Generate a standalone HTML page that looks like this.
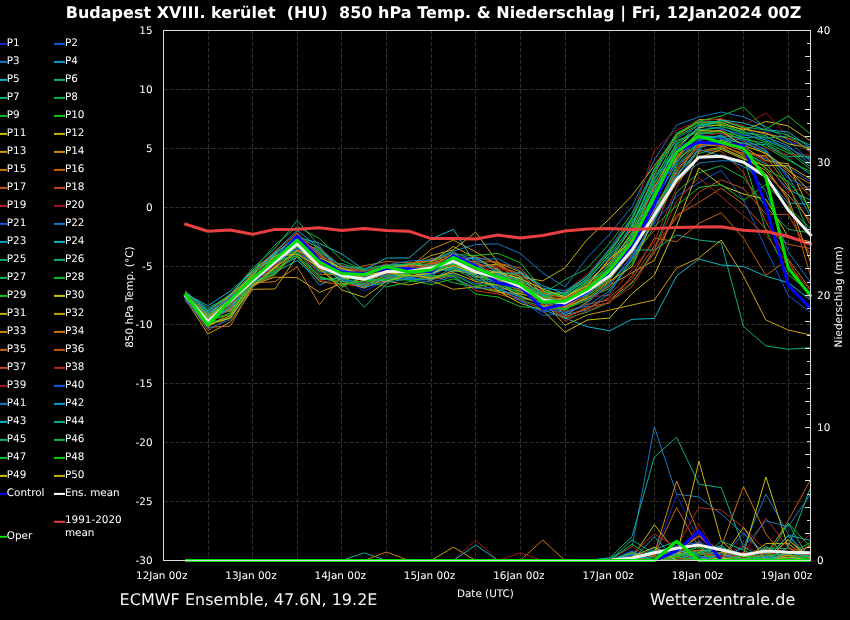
<!DOCTYPE html><html><head><meta charset="utf-8"><style>html,body{margin:0;padding:0;background:#000;}svg{display:block}text{font-family:"DejaVu Sans","Liberation Sans",sans-serif;fill:#fff;text-rendering:geometricPrecision}</style></head><body>
<svg width="850" height="620" viewBox="0 0 850 620">
<rect width="850" height="620" fill="#000"/>
<path d="M208.5 30.05V560.5 M252.5 30.05V560.5 M297.5 30.05V560.5 M341.5 30.05V560.5 M386.5 30.05V560.5 M431.5 30.05V560.5 M475.5 30.05V560.5 M520.5 30.05V560.5 M565.5 30.05V560.5 M609.5 30.05V560.5 M654.5 30.05V560.5 M698.5 30.05V560.5 M743.5 30.05V560.5 M788.5 30.05V560.5 M163.5 89.5H810.5 M163.5 148.5H810.5 M163.5 207.5H810.5 M163.5 266.5H810.5 M163.5 324.5H810.5 M163.5 383.5H810.5 M163.5 442.5H810.5 M163.5 501.5H810.5" stroke="#303024" stroke-width="1" stroke-dasharray="4,2" fill="none"/>
<defs><clipPath id="c"><rect x="163.5" y="30.5" width="647" height="530"/></clipPath></defs>
<g fill="none" stroke-linejoin="round" stroke-linecap="square">
<polyline points="185.6,296.1 207.9,316.7 230.3,293.0 252.6,275.9 274.9,260.3 297.2,239.4 319.5,261.0 341.8,277.6 364.2,291.2 386.5,280.3 408.8,277.3 431.1,270.8 453.4,261.3 475.7,275.2 498.1,282.6 520.4,289.7 542.7,289.1 565.0,296.1 587.3,284.5 609.6,261.6 632.0,232.9 654.3,189.0 676.6,148.9 698.9,135.5 721.2,129.4 743.5,135.7 765.9,131.5 788.2,141.9 810.5,147.2" stroke="#1428c8" stroke-width="1"/>
<polyline points="185.6,293.0 207.9,309.9 230.3,295.6 252.6,277.7 274.9,262.2 297.2,243.1 319.5,266.7 341.8,269.3 364.2,278.7 386.5,274.1 408.8,276.2 431.1,272.8 453.4,265.2 475.7,270.1 498.1,271.0 520.4,290.7 542.7,304.0 565.0,299.8 587.3,289.7 609.6,269.6 632.0,239.7 654.3,200.8 676.6,163.8 698.9,134.7 721.2,138.5 743.5,150.0 765.9,159.1 788.2,167.5 810.5,181.4" stroke="#105ad7" stroke-width="1"/>
<polyline points="185.6,297.2 207.9,320.8 230.3,309.6 252.6,278.6 274.9,258.3 297.2,236.3 319.5,255.7 341.8,272.5 364.2,275.6 386.5,265.0 408.8,266.4 431.1,264.1 453.4,251.1 475.7,244.5 498.1,243.9 520.4,253.5 542.7,272.9 565.0,287.0 587.3,257.5 609.6,234.2 632.0,206.7 654.3,159.9 676.6,125.0 698.9,117.0 721.2,112.0 743.5,116.9 765.9,126.5 788.2,140.0 810.5,161.8" stroke="#1478c8" stroke-width="1"/>
<polyline points="185.6,294.7 207.9,312.7 230.3,296.7 252.6,276.2 274.9,269.0 297.2,257.3 319.5,285.1 341.8,275.4 364.2,277.0 386.5,275.2 408.8,269.4 431.1,276.5 453.4,260.8 475.7,275.7 498.1,282.1 520.4,282.3 542.7,295.8 565.0,301.3 587.3,291.7 609.6,273.5 632.0,248.9 654.3,202.3 676.6,162.4 698.9,138.8 721.2,136.0 743.5,137.5 765.9,136.9 788.2,145.7 810.5,164.3" stroke="#109bcd" stroke-width="1"/>
<polyline points="185.6,294.6 207.9,314.3 230.3,311.4 252.6,276.8 274.9,257.8 297.2,232.9 319.5,270.3 341.8,274.3 364.2,273.9 386.5,267.9 408.8,264.0 431.1,267.8 453.4,271.5 475.7,267.9 498.1,274.4 520.4,277.8 542.7,294.3 565.0,306.7 587.3,293.0 609.6,279.4 632.0,252.3 654.3,205.3 676.6,177.7 698.9,140.5 721.2,135.1 743.5,152.3 765.9,164.0 788.2,189.5 810.5,200.2" stroke="#10b4c8" stroke-width="1"/>
<polyline points="185.6,292.6 207.9,308.4 230.3,295.1 252.6,268.0 274.9,248.5 297.2,220.3 319.5,246.1 341.8,277.3 364.2,279.6 386.5,273.2 408.8,277.9 431.1,271.5 453.4,268.3 475.7,280.1 498.1,279.2 520.4,272.1 542.7,294.7 565.0,292.1 587.3,279.4 609.6,256.7 632.0,229.6 654.3,184.5 676.6,142.3 698.9,128.6 721.2,120.1 743.5,127.1 765.9,140.9 788.2,149.5 810.5,166.7" stroke="#10af8c" stroke-width="1"/>
<polyline points="185.6,297.6 207.9,317.4 230.3,301.3 252.6,279.2 274.9,255.3 297.2,243.6 319.5,266.1 341.8,263.5 364.2,270.7 386.5,264.6 408.8,264.5 431.1,260.1 453.4,250.9 475.7,272.2 498.1,271.6 520.4,275.9 542.7,299.5 565.0,299.3 587.3,287.8 609.6,276.4 632.0,240.9 654.3,192.0 676.6,144.0 698.9,129.7 721.2,127.7 743.5,138.4 765.9,150.7 788.2,184.1 810.5,236.9" stroke="#10af6e" stroke-width="1"/>
<polyline points="185.6,297.4 207.9,322.2 230.3,318.5 252.6,287.4 274.9,268.2 297.2,241.2 319.5,250.3 341.8,270.3 364.2,281.2 386.5,270.1 408.8,276.8 431.1,275.0 453.4,282.7 475.7,287.0 498.1,290.9 520.4,284.0 542.7,302.4 565.0,318.8 587.3,312.1 609.6,302.1 632.0,283.3 654.3,249.6 676.6,192.1 698.9,172.8 721.2,165.5 743.5,177.7 765.9,206.8 788.2,229.3 810.5,232.9" stroke="#10b44b" stroke-width="1"/>
<polyline points="185.6,297.8 207.9,326.9 230.3,304.2 252.6,285.7 274.9,273.1 297.2,250.2 319.5,265.0 341.8,287.5 364.2,275.3 386.5,272.6 408.8,268.8 431.1,268.2 453.4,259.8 475.7,271.2 498.1,288.7 520.4,299.9 542.7,306.5 565.0,309.6 587.3,297.6 609.6,288.7 632.0,263.7 654.3,214.6 676.6,173.1 698.9,153.2 721.2,148.3 743.5,156.9 765.9,230.6 788.2,274.5 810.5,292.6" stroke="#10be28" stroke-width="1"/>
<polyline points="185.6,295.9 207.9,320.4 230.3,314.6 252.6,279.8 274.9,269.8 297.2,242.2 319.5,251.4 341.8,266.1 364.2,272.3 386.5,268.4 408.8,265.0 431.1,261.4 453.4,254.3 475.7,255.6 498.1,253.4 520.4,262.7 542.7,290.4 565.0,297.4 587.3,283.7 609.6,265.7 632.0,231.5 654.3,180.4 676.6,136.9 698.9,124.3 721.2,125.6 743.5,133.6 765.9,142.1 788.2,153.1 810.5,158.0" stroke="#10c810" stroke-width="1"/>
<polyline points="185.6,295.6 207.9,311.1 230.3,295.0 252.6,270.0 274.9,252.6 297.2,240.3 319.5,261.6 341.8,276.9 364.2,286.9 386.5,274.4 408.8,264.0 431.1,267.3 453.4,253.5 475.7,267.3 498.1,272.7 520.4,281.1 542.7,291.8 565.0,297.9 587.3,281.6 609.6,262.7 632.0,234.0 654.3,187.6 676.6,147.6 698.9,127.6 721.2,124.5 743.5,129.3 765.9,132.9 788.2,143.8 810.5,148.2" stroke="#c8c310" stroke-width="1"/>
<polyline points="185.6,295.0 207.9,313.8 230.3,298.3 252.6,272.1 274.9,253.7 297.2,235.5 319.5,253.6 341.8,270.6 364.2,272.7 386.5,270.4 408.8,272.0 431.1,273.1 453.4,263.2 475.7,266.7 498.1,264.0 520.4,276.9 542.7,280.9 565.0,267.7 587.3,239.3 609.6,218.7 632.0,195.5 654.3,165.9 676.6,135.2 698.9,122.1 721.2,122.3 743.5,130.4 765.9,121.4 788.2,125.9 810.5,140.9" stroke="#c8b210" stroke-width="1"/>
<polyline points="185.6,299.4 207.9,334.0 230.3,322.0 252.6,289.3 274.9,289.0 297.2,256.1 319.5,281.4 341.8,284.9 364.2,278.1 386.5,266.0 408.8,266.0 431.1,255.6 453.4,249.7 475.7,232.2 498.1,262.9 520.4,271.9 542.7,289.7 565.0,315.7 587.3,301.7 609.6,285.3 632.0,272.7 654.3,260.4 676.6,210.1 698.9,151.3 721.2,147.3 743.5,158.0 765.9,170.5 788.2,197.6 810.5,262.1" stroke="#c8a010" stroke-width="1"/>
<polyline points="185.6,294.4 207.9,319.1 230.3,300.9 252.6,274.2 274.9,251.6 297.2,233.1 319.5,263.3 341.8,273.9 364.2,275.9 386.5,268.7 408.8,268.4 431.1,249.4 453.4,240.1 475.7,251.9 498.1,265.0 520.4,281.7 542.7,297.3 565.0,298.8 587.3,285.1 609.6,260.0 632.0,227.7 654.3,174.3 676.6,134.9 698.9,119.5 721.2,119.5 743.5,128.2 765.9,134.2 788.2,138.1 810.5,149.8" stroke="#cd8c10" stroke-width="1"/>
<polyline points="185.6,294.0 207.9,314.9 230.3,306.2 252.6,283.1 274.9,281.6 297.2,266.9 319.5,304.5 341.8,276.2 364.2,277.3 386.5,269.1 408.8,268.1 431.1,258.8 453.4,256.0 475.7,266.1 498.1,275.0 520.4,282.9 542.7,298.4 565.0,300.3 587.3,286.4 609.6,264.7 632.0,237.4 654.3,199.3 676.6,158.7 698.9,133.9 721.2,130.2 743.5,141.1 765.9,154.4 788.2,171.1 810.5,183.9" stroke="#cd7810" stroke-width="1"/>
<polyline points="185.6,301.0 207.9,327.0 230.3,312.4 252.6,283.4 274.9,264.7 297.2,247.6 319.5,247.9 341.8,272.1 364.2,265.8 386.5,261.5 408.8,262.8 431.1,260.7 453.4,258.3 475.7,261.9 498.1,261.9 520.4,280.0 542.7,304.8 565.0,317.9 587.3,307.1 609.6,302.9 632.0,275.7 654.3,238.2 676.6,241.7 698.9,223.3 721.2,212.7 743.5,238.3 765.9,275.4 788.2,259.3 810.5,289.3" stroke="#c86410" stroke-width="1"/>
<polyline points="185.6,298.2 207.9,330.5 230.3,316.8 252.6,285.1 274.9,270.7 297.2,249.3 319.5,274.4 341.8,274.7 364.2,275.0 386.5,271.4 408.8,267.4 431.1,266.5 453.4,258.8 475.7,282.8 498.1,291.3 520.4,298.8 542.7,301.3 565.0,311.4 587.3,304.4 609.6,299.6 632.0,282.1 654.3,252.9 676.6,215.3 698.9,202.5 721.2,188.2 743.5,204.4 765.9,229.3 788.2,244.3 810.5,248.5" stroke="#c85814" stroke-width="1"/>
<polyline points="185.6,295.3 207.9,326.3 230.3,301.8 252.6,278.0 274.9,266.7 297.2,242.7 319.5,269.0 341.8,273.6 364.2,279.3 386.5,273.5 408.8,274.8 431.1,279.6 453.4,275.9 475.7,290.6 498.1,294.0 520.4,300.4 542.7,309.0 565.0,305.6 587.3,299.5 609.6,286.5 632.0,254.6 654.3,230.6 676.6,174.6 698.9,150.3 721.2,151.2 743.5,172.2 765.9,221.8 788.2,260.4 810.5,299.3" stroke="#c8441e" stroke-width="1"/>
<polyline points="185.6,296.3 207.9,321.4 230.3,302.6 252.6,282.5 274.9,265.2 297.2,238.0 319.5,247.5 341.8,267.1 364.2,274.2 386.5,271.7 408.8,266.9 431.1,270.2 453.4,264.4 475.7,276.1 498.1,277.2 520.4,284.6 542.7,299.1 565.0,307.9 587.3,296.9 609.6,295.3 632.0,269.7 654.3,242.0 676.6,187.6 698.9,147.3 721.2,141.4 743.5,148.9 765.9,162.3 788.2,192.2 810.5,186.3" stroke="#b4281e" stroke-width="1"/>
<polyline points="185.6,293.4 207.9,311.6 230.3,297.8 252.6,273.1 274.9,250.5 297.2,233.9 319.5,267.9 341.8,267.7 364.2,273.5 386.5,271.0 408.8,271.7 431.1,268.6 453.4,251.9 475.7,263.8 498.1,267.9 520.4,275.0 542.7,296.2 565.0,291.8 587.3,273.9 609.6,249.8 632.0,217.9 654.3,150.0 676.6,130.0 698.9,121.7 721.2,118.3 743.5,125.8 765.9,113.0 788.2,136.2 810.5,153.1" stroke="#a01616" stroke-width="1"/>
<polyline points="185.6,298.8 207.9,318.8 230.3,305.7 252.6,282.3 274.9,259.8 297.2,244.6 319.5,260.4 341.8,271.4 364.2,277.5 386.5,276.9 408.8,279.0 431.1,277.2 453.4,273.7 475.7,284.1 498.1,280.2 520.4,300.0 542.7,315.4 565.0,313.5 587.3,303.1 609.6,283.3 632.0,256.9 654.3,223.0 676.6,196.6 698.9,182.6 721.2,170.2 743.5,199.5 765.9,248.7 788.2,295.3 810.5,312.7" stroke="#105ad7" stroke-width="1"/>
<polyline points="185.6,293.0 207.9,311.0 230.3,299.7 252.6,281.7 274.9,253.1 297.2,238.8 319.5,252.5 341.8,265.9 364.2,271.0 386.5,265.0 408.8,261.0 431.1,259.9 453.4,252.7 475.7,260.0 498.1,268.8 520.4,285.1 542.7,308.9 565.0,312.4 587.3,305.8 609.6,290.9 632.0,258.0 654.3,219.3 676.6,179.3 698.9,163.0 721.2,160.7 743.5,161.4 765.9,191.8 788.2,251.8 810.5,282.5" stroke="#1478c8" stroke-width="1"/>
<polyline points="185.6,298.4 207.9,321.8 230.3,308.7 252.6,280.4 274.9,263.2 297.2,253.5 319.5,265.6 341.8,271.0 364.2,273.1 386.5,266.5 408.8,269.1 431.1,274.2 453.4,266.5 475.7,273.7 498.1,273.9 520.4,287.2 542.7,298.0 565.0,314.6 587.3,309.9 609.6,293.1 632.0,259.1 654.3,220.8 676.6,180.8 698.9,149.3 721.2,156.0 743.5,166.8 765.9,176.9 788.2,203.0 810.5,204.3" stroke="#109bcd" stroke-width="1"/>
<polyline points="185.6,295.2 207.9,315.9 230.3,296.1 252.6,273.7 274.9,254.2 297.2,237.2 319.5,243.3 341.8,254.0 364.2,269.9 386.5,258.0 408.8,258.0 431.1,239.0 453.4,229.3 475.7,264.4 498.1,276.7 520.4,288.2 542.7,309.4 565.0,318.1 587.3,326.7 609.6,330.8 632.0,319.3 654.3,318.5 676.6,276.0 698.9,259.0 721.2,265.0 743.5,266.6 765.9,276.2 788.2,282.6 810.5,300.0" stroke="#10b4c8" stroke-width="1"/>
<polyline points="185.6,291.0 207.9,312.1 230.3,305.2 252.6,285.5 274.9,272.3 297.2,260.5 319.5,279.9 341.8,278.0 364.2,279.9 386.5,276.2 408.8,274.0 431.1,270.5 453.4,262.8 475.7,278.7 498.1,287.6 520.4,291.1 542.7,296.5 565.0,303.3 587.3,294.3 609.6,275.5 632.0,250.0 654.3,250.0 676.6,235.0 698.9,240.0 721.2,242.6 743.5,326.5 765.9,345.9 788.2,349.2 810.5,347.7" stroke="#10af8c" stroke-width="1"/>
<polyline points="185.6,296.8 207.9,316.2 230.3,303.4 252.6,278.9 274.9,271.5 297.2,255.1 319.5,278.5 341.8,279.2 364.2,282.8 386.5,274.6 408.8,273.1 431.1,271.8 453.4,257.4 475.7,262.8 498.1,270.4 520.4,286.2 542.7,295.0 565.0,295.5 587.3,282.6 609.6,268.6 632.0,236.3 654.3,182.4 676.6,151.4 698.9,133.1 721.2,133.5 743.5,139.3 765.9,143.4 788.2,156.7 810.5,156.3" stroke="#10af6e" stroke-width="1"/>
<polyline points="185.6,298.6 207.9,323.5 230.3,303.8 252.6,281.2 274.9,274.1 297.2,252.7 319.5,262.7 341.8,271.7 364.2,277.8 386.5,272.3 408.8,267.8 431.1,269.4 453.4,269.4 475.7,269.0 498.1,280.7 520.4,283.4 542.7,298.8 565.0,302.3 587.3,288.4 609.6,263.7 632.0,223.9 654.3,176.3 676.6,145.8 698.9,123.2 721.2,123.4 743.5,132.6 765.9,135.6 788.2,151.3 810.5,169.2" stroke="#10b44b" stroke-width="1"/>
<polyline points="185.6,292.9 207.9,310.7 230.3,294.2 252.6,271.2 274.9,245.0 297.2,226.6 319.5,238.7 341.8,259.9 364.2,271.0 386.5,267.4 408.8,269.8 431.1,278.8 453.4,274.8 475.7,285.5 498.1,284.4 520.4,292.3 542.7,292.5 565.0,293.4 587.3,276.1 609.6,253.4 632.0,220.1 654.3,170.2 676.6,134.4 698.9,121.0 721.2,116.0 743.5,107.0 765.9,129.0 788.2,116.0 810.5,134.0" stroke="#10be28" stroke-width="1"/>
<polyline points="185.6,295.1 207.9,316.4 230.3,299.3 252.6,275.3 274.9,262.7 297.2,245.4 319.5,271.7 341.8,275.1 364.2,278.4 386.5,278.9 408.8,280.2 431.1,284.5 453.4,278.8 475.7,287.4 498.1,281.7 520.4,294.4 542.7,296.9 565.0,294.8 587.3,278.3 609.6,251.8 632.0,218.2 654.3,169.9 676.6,140.5 698.9,132.2 721.2,131.9 743.5,136.6 765.9,147.0 788.2,160.3 810.5,171.6" stroke="#10c810" stroke-width="1"/>
<polyline points="185.6,299.0 207.9,325.6 230.3,315.7 252.6,280.9 274.9,266.2 297.2,245.0 319.5,258.1 341.8,278.4 364.2,276.7 386.5,269.4 408.8,270.8 431.1,279.5 453.4,270.4 475.7,274.2 498.1,291.0 520.4,303.4 542.7,310.3 565.0,332.2 587.3,320.0 609.6,318.0 632.0,293.6 654.3,275.2 676.6,226.0 698.9,167.9 721.2,185.3 743.5,194.0 765.9,199.3 788.2,236.8 810.5,241.7" stroke="#c8c310" stroke-width="1"/>
<polyline points="185.6,295.8 207.9,318.5 230.3,308.2 252.6,281.5 274.9,267.1 297.2,244.1 319.5,264.4 341.8,280.8 364.2,288.2 386.5,277.5 408.8,274.5 431.1,262.1 453.4,246.5 475.7,258.0 498.1,269.8 520.4,286.7 542.7,301.7 565.0,302.8 587.3,290.4 609.6,272.5 632.0,243.1 654.3,197.9 676.6,159.9 698.9,143.4 721.2,140.4 743.5,146.6 765.9,160.7 788.2,163.9 810.5,212.4" stroke="#c8b210" stroke-width="1"/>
<polyline points="185.6,295.4 207.9,315.4 230.3,310.3 252.6,284.8 274.9,277.1 297.2,277.7 319.5,292.4 341.8,283.3 364.2,284.5 386.5,281.0 408.8,285.0 431.1,280.6 453.4,289.3 475.7,286.9 498.1,292.2 520.4,293.4 542.7,300.6 565.0,325.2 587.3,315.0 609.6,310.1 632.0,305.0 654.3,300.0 676.6,268.0 698.9,258.0 721.2,240.0 743.5,276.0 765.9,320.0 788.2,330.0 810.5,335.0" stroke="#c8a010" stroke-width="1"/>
<polyline points="185.6,294.8 207.9,315.7 230.3,294.8 252.6,276.5 274.9,261.3 297.2,248.4 319.5,269.6 341.8,286.0 364.2,280.8 386.5,272.9 408.8,271.1 431.1,264.8 453.4,255.2 475.7,277.3 498.1,278.2 520.4,289.2 542.7,307.3 565.0,303.9 587.3,291.0 609.6,271.6 632.0,244.3 654.3,210.0 676.6,171.5 698.9,146.4 721.2,144.4 743.5,155.7 765.9,173.8 788.2,194.9 810.5,220.6" stroke="#cd8c10" stroke-width="1"/>
<polyline points="185.6,299.1 207.9,327.4 230.3,326.0 252.6,286.3 274.9,274.9 297.2,249.7 319.5,263.9 341.8,273.2 364.2,276.4 386.5,267.0 408.8,270.4 431.1,266.1 453.4,264.8 475.7,270.7 498.1,279.7 520.4,291.6 542.7,297.7 565.0,306.1 587.3,295.6 609.6,280.4 632.0,246.6 654.3,208.4 676.6,170.0 698.9,144.4 721.2,146.3 743.5,153.4 765.9,155.8 788.2,186.8 810.5,224.7" stroke="#cd7810" stroke-width="1"/>
<polyline points="185.6,293.8 207.9,319.8 230.3,304.7 252.6,280.1 274.9,256.4 297.2,239.8 319.5,254.6 341.8,268.8 364.2,271.4 386.5,270.7 408.8,265.5 431.1,263.5 453.4,261.8 475.7,256.8 498.1,263.1 520.4,268.2 542.7,291.1 565.0,305.0 587.3,293.6 609.6,277.4 632.0,253.4 654.3,216.2 676.6,166.9 698.9,145.4 721.2,143.4 743.5,151.1 765.9,157.4 788.2,173.3 810.5,196.1" stroke="#c86410" stroke-width="1"/>
<polyline points="185.6,292.0 207.9,318.2 230.3,303.0 252.6,277.1 274.9,258.8 297.2,240.8 319.5,257.0 341.8,284.1 364.2,286.1 386.5,273.8 408.8,272.3 431.1,262.8 453.4,259.3 475.7,265.0 498.1,266.0 520.4,274.0 542.7,293.1 565.0,298.3 587.3,287.1 609.6,267.6 632.0,238.6 654.3,186.1 676.6,155.0 698.9,141.5 721.2,145.3 743.5,154.6 765.9,167.2 788.2,200.3 810.5,275.7" stroke="#c85814" stroke-width="1"/>
<polyline points="185.6,298.0 207.9,321.1 230.3,309.1 252.6,277.4 274.9,257.3 297.2,246.7 319.5,268.4 341.8,275.8 364.2,274.5 386.5,269.7 408.8,271.4 431.1,265.3 453.4,266.1 475.7,260.9 498.1,277.7 520.4,290.2 542.7,300.9 565.0,316.8 587.3,308.5 609.6,297.4 632.0,278.7 654.3,245.8 676.6,218.1 698.9,192.1 721.2,179.8 743.5,188.6 765.9,214.3 788.2,214.4 810.5,255.3" stroke="#c8441e" stroke-width="1"/>
<polyline points="185.6,297.0 207.9,320.1 230.3,302.2 252.6,272.0 274.9,252.0 297.2,232.3 319.5,256.4 341.8,265.3 364.2,271.9 386.5,263.5 408.8,273.7 431.1,272.4 453.4,262.3 475.7,269.6 498.1,276.1 520.4,285.7 542.7,300.2 565.0,320.9 587.3,310.6 609.6,301.8 632.0,286.8 654.3,250.3 676.6,201.1 698.9,177.7 721.2,196.4 743.5,215.8 765.9,235.2 788.2,264.1 810.5,290.3" stroke="#b4281e" stroke-width="1"/>
<polyline points="185.6,296.7 207.9,317.1 230.3,306.7 252.6,283.8 274.9,265.7 297.2,248.0 319.5,280.2 341.8,285.3 364.2,282.0 386.5,275.5 408.8,273.4 431.1,269.0 453.4,266.9 475.7,271.7 498.1,266.9 520.4,287.7 542.7,302.7 565.0,300.8 587.3,289.1 609.6,270.6 632.0,245.4 654.3,196.4 676.6,156.3 698.9,137.1 721.2,132.7 743.5,144.7 765.9,148.3 788.2,154.9 810.5,154.7" stroke="#a01616" stroke-width="1"/>
<polyline points="185.6,300.0 207.9,328.5 230.3,319.7 252.6,284.1 274.9,263.7 297.2,247.1 319.5,273.1 341.8,269.9 364.2,276.2 386.5,274.9 408.8,279.3 431.1,282.1 453.4,276.8 475.7,288.5 498.1,286.5 520.4,301.4 542.7,312.2 565.0,308.4 587.3,298.9 609.6,284.3 632.0,255.7 654.3,211.5 676.6,168.4 698.9,139.6 721.2,137.6 743.5,140.2 765.9,149.5 788.2,178.7 810.5,188.8" stroke="#105ad7" stroke-width="1"/>
<polyline points="185.6,294.2 207.9,313.2 230.3,297.2 252.6,280.6 274.9,264.2 297.2,248.8 319.5,259.9 341.8,278.7 364.2,285.3 386.5,278.2 408.8,278.4 431.1,273.8 453.4,256.8 475.7,259.0 498.1,259.0 520.4,270.9 542.7,288.1 565.0,290.6 587.3,277.2 609.6,248.2 632.0,216.7 654.3,172.2 676.6,138.7 698.9,125.4 721.2,128.6 743.5,134.7 765.9,139.7 788.2,147.6 810.5,159.6" stroke="#1478c8" stroke-width="1"/>
<polyline points="185.6,296.6 207.9,322.9 230.3,307.2 252.6,284.4 274.9,259.3 297.2,241.7 319.5,259.3 341.8,280.0 364.2,287.1 386.5,282.2 408.8,278.9 431.1,279.9 453.4,267.3 475.7,274.7 498.1,289.8 520.4,296.6 542.7,303.2 565.0,301.8 587.3,294.9 609.6,274.5 632.0,251.1 654.3,206.9 676.6,176.2 698.9,148.3 721.2,139.5 743.5,142.9 765.9,151.9 788.2,176.0 810.5,216.5" stroke="#109bcd" stroke-width="1"/>
<polyline points="185.6,293.6 207.9,305.8 230.3,291.0 252.6,271.8 274.9,252.1 297.2,230.4 319.5,248.1 341.8,272.8 364.2,279.0 386.5,280.9 408.8,272.8 431.1,272.1 453.4,263.6 475.7,257.1 498.1,273.3 520.4,273.0 542.7,285.7 565.0,294.1 587.3,280.5 609.6,255.1 632.0,225.8 654.3,178.4 676.6,150.1 698.9,126.5 721.2,120.0 743.5,122.9 765.9,129.9 788.2,131.9 810.5,147.9" stroke="#10b4c8" stroke-width="1"/>
<polyline points="185.6,297.3 207.9,317.9 230.3,307.7 252.6,279.5 274.9,261.8 297.2,245.9 319.5,262.1 341.8,282.5 364.2,307.4 386.5,284.0 408.8,270.1 431.1,266.9 453.4,267.7 475.7,276.6 498.1,275.6 520.4,279.4 542.7,295.4 565.0,292.7 587.3,275.8 609.6,250.2 632.0,222.0 654.3,190.5 676.6,152.6 698.9,136.3 721.2,136.8 743.5,143.8 765.9,144.6 788.2,158.5 810.5,174.1" stroke="#10af8c" stroke-width="1"/>
<polyline points="185.6,296.2 207.9,315.2 230.3,300.1 252.6,282.0 274.9,254.8 297.2,234.7 319.5,249.2 341.8,266.6 364.2,268.4 386.5,265.5 408.8,263.7 431.1,265.7 453.4,260.3 475.7,268.4 498.1,281.2 520.4,297.7 542.7,302.0 565.0,304.4 587.3,292.3 609.6,266.7 632.0,235.1 654.3,193.4 676.6,161.2 698.9,131.4 721.2,126.6 743.5,131.5 765.9,138.3 788.2,135.9 810.5,145.1" stroke="#10af6e" stroke-width="1"/>
<polyline points="185.6,295.7 207.9,316.9 230.3,300.5 252.6,272.6 274.9,256.9 297.2,251.8 319.5,277.1 341.8,281.7 364.2,283.7 386.5,275.8 408.8,272.6 431.1,269.8 453.4,257.9 475.7,265.6 498.1,278.7 520.4,280.6 542.7,293.8 565.0,279.7 587.3,268.4 609.6,243.5 632.0,213.3 654.3,168.8 676.6,132.9 698.9,122.0 721.2,121.2 743.5,126.9 765.9,130.1 788.2,134.8 810.5,151.4" stroke="#10b44b" stroke-width="1"/>
<polyline points="185.6,296.4 207.9,324.2 230.3,317.9 252.6,282.8 274.9,273.9 297.2,246.3 319.5,258.7 341.8,276.5 364.2,280.2 386.5,287.0 408.8,282.0 431.1,275.7 453.4,276.1 475.7,294.2 498.1,297.0 520.4,306.7 542.7,308.1 565.0,309.0 587.3,300.3 609.6,282.3 632.0,260.7 654.3,226.8 676.6,205.6 698.9,187.5 721.2,184.5 743.5,200.5 765.9,184.4 788.2,206.9 810.5,228.8" stroke="#10be28" stroke-width="1"/>
<polyline points="185.6,293.2 207.9,319.5 230.3,313.5 252.6,278.3 274.9,260.8 297.2,255.9 319.5,275.8 341.8,285.0 364.2,280.5 386.5,279.6 408.8,274.2 431.1,271.1 453.4,264.0 475.7,272.7 498.1,283.3 520.4,288.7 542.7,299.9 565.0,310.3 587.3,296.2 609.6,278.4 632.0,247.7 654.3,213.1 676.6,165.3 698.9,142.4 721.2,142.4 743.5,147.7 765.9,168.9 788.2,181.4 810.5,208.4" stroke="#10c810" stroke-width="1"/>
<polyline points="185.6,299.0 207.9,324.9 230.3,318.0 252.6,285.5 274.9,267.6 297.2,251.0 319.5,257.6 341.8,268.2 364.2,274.8 386.5,272.0 408.8,275.7 431.1,273.4 453.4,265.7 475.7,273.2 498.1,272.1 520.4,278.8 542.7,288.9 565.0,296.8 587.3,285.8 609.6,258.3 632.0,242.0 654.3,194.9 676.6,157.5 698.9,130.6 721.2,131.1 743.5,145.6 765.9,153.2 788.2,169.3 810.5,192.0" stroke="#c8c310" stroke-width="1"/>
<polyline points="185.6,296.9 207.9,317.6 230.3,298.9 252.6,274.8 274.9,255.9 297.2,254.3 319.5,267.3 341.8,290.0 364.2,297.3 386.5,281.3 408.8,275.1 431.1,278.0 453.4,272.6 475.7,281.4 498.1,285.4 520.4,295.5 542.7,305.7 565.0,307.3 587.3,298.2 609.6,281.3 632.0,266.7 654.3,217.7 676.6,183.1 698.9,158.1 721.2,149.3 743.5,159.1 765.9,165.6 788.2,165.7 810.5,179.0" stroke="#c8b210" stroke-width="1"/>
<polyline points="185.6,560.5 207.9,560.5 230.3,560.5 252.6,560.5 274.9,560.5 297.2,560.5 319.5,560.5 341.8,560.5 364.2,560.5 386.5,560.5 408.8,560.5 431.1,560.5 453.4,560.5 475.7,560.5 498.1,560.5 520.4,560.5 542.7,560.5 565.0,560.5 587.3,560.5 609.6,560.5 632.0,550.6 654.3,556.5 676.6,494.9 698.9,540.6 721.2,555.2 743.5,560.5 765.9,560.5 788.2,554.8 810.5,560.5" stroke="#1428c8" stroke-width="1"/>
<polyline points="185.6,560.5 207.9,560.5 230.3,560.5 252.6,560.5 274.9,560.5 297.2,560.5 319.5,560.5 341.8,560.5 364.2,560.5 386.5,560.5 408.8,560.5 431.1,560.5 453.4,560.5 475.7,560.5 498.1,560.5 520.4,560.5 542.7,560.5 565.0,560.5 587.3,560.5 609.6,560.5 632.0,560.5 654.3,560.5 676.6,560.5 698.9,556.0 721.2,560.5 743.5,532.5 765.9,558.4 788.2,559.6 810.5,554.3" stroke="#105ad7" stroke-width="1"/>
<polyline points="185.6,560.5 207.9,560.5 230.3,560.5 252.6,560.5 274.9,560.5 297.2,560.5 319.5,560.5 341.8,560.5 364.2,560.5 386.5,560.5 408.8,560.5 431.1,560.5 453.4,560.5 475.7,560.5 498.1,560.5 520.4,560.5 542.7,560.5 565.0,560.5 587.3,560.5 609.6,557.9 632.0,547.2 654.3,426.7 676.6,494.2 698.9,496.9 721.2,514.1 743.5,534.0 765.9,553.5 788.2,554.8 810.5,558.5" stroke="#1478c8" stroke-width="1"/>
<polyline points="185.6,560.5 207.9,560.5 230.3,560.5 252.6,560.5 274.9,560.5 297.2,560.5 319.5,560.5 341.8,560.5 364.2,560.5 386.5,560.5 408.8,560.5 431.1,560.5 453.4,560.5 475.7,560.5 498.1,560.5 520.4,560.5 542.7,560.5 565.0,560.5 587.3,560.5 609.6,560.5 632.0,560.5 654.3,560.5 676.6,553.3 698.9,560.5 721.2,560.5 743.5,560.3 765.9,559.3 788.2,560.5 810.5,559.6" stroke="#109bcd" stroke-width="1"/>
<polyline points="185.6,560.5 207.9,560.5 230.3,560.5 252.6,560.5 274.9,560.5 297.2,560.5 319.5,560.5 341.8,560.5 364.2,560.5 386.5,560.5 408.8,560.5 431.1,560.5 453.4,560.5 475.7,560.5 498.1,560.5 520.4,560.5 542.7,560.5 565.0,560.5 587.3,560.5 609.6,560.5 632.0,560.5 654.3,560.5 676.6,547.1 698.9,560.5 721.2,560.5 743.5,560.5 765.9,560.5 788.2,535.2 810.5,540.4" stroke="#10b4c8" stroke-width="1"/>
<polyline points="185.6,560.5 207.9,560.5 230.3,560.5 252.6,560.5 274.9,560.5 297.2,560.5 319.5,560.5 341.8,560.5 364.2,552.9 386.5,560.5 408.8,560.5 431.1,560.5 453.4,560.5 475.7,560.5 498.1,560.5 520.4,560.5 542.7,560.5 565.0,560.5 587.3,560.5 609.6,560.5 632.0,560.5 654.3,549.7 676.6,541.0 698.9,560.5 721.2,560.5 743.5,553.2 765.9,553.4 788.2,523.8 810.5,560.5" stroke="#10af8c" stroke-width="1"/>
<polyline points="185.6,560.5 207.9,560.5 230.3,560.5 252.6,560.5 274.9,560.5 297.2,560.5 319.5,560.5 341.8,560.5 364.2,560.5 386.5,560.5 408.8,560.5 431.1,560.5 453.4,560.5 475.7,560.5 498.1,560.5 520.4,560.5 542.7,560.5 565.0,560.5 587.3,560.5 609.6,560.5 632.0,539.9 654.3,553.7 676.6,556.5 698.9,560.5 721.2,552.3 743.5,560.5 765.9,546.5 788.2,560.5 810.5,560.5" stroke="#10af6e" stroke-width="1"/>
<polyline points="185.6,560.5 207.9,560.5 230.3,560.5 252.6,560.5 274.9,560.5 297.2,560.5 319.5,560.5 341.8,560.5 364.2,560.5 386.5,560.5 408.8,560.5 431.1,560.5 453.4,560.5 475.7,560.5 498.1,560.5 520.4,560.5 542.7,560.5 565.0,560.5 587.3,560.5 609.6,560.5 632.0,560.5 654.3,560.5 676.6,559.6 698.9,560.5 721.2,560.5 743.5,560.3 765.9,560.5 788.2,555.3 810.5,560.5" stroke="#10b44b" stroke-width="1"/>
<polyline points="185.6,560.5 207.9,560.5 230.3,560.5 252.6,560.5 274.9,560.5 297.2,560.5 319.5,560.5 341.8,560.5 364.2,560.5 386.5,560.5 408.8,560.5 431.1,560.5 453.4,560.5 475.7,560.5 498.1,560.5 520.4,560.5 542.7,560.5 565.0,560.5 587.3,560.5 609.6,560.5 632.0,560.5 654.3,560.5 676.6,560.5 698.9,555.1 721.2,552.5 743.5,556.2 765.9,560.2 788.2,555.0 810.5,542.4" stroke="#10be28" stroke-width="1"/>
<polyline points="185.6,560.5 207.9,560.5 230.3,560.5 252.6,560.5 274.9,560.5 297.2,560.5 319.5,560.5 341.8,560.5 364.2,560.5 386.5,560.5 408.8,560.5 431.1,560.5 453.4,560.5 475.7,560.5 498.1,560.5 520.4,560.5 542.7,560.5 565.0,560.5 587.3,560.5 609.6,560.5 632.0,560.5 654.3,560.5 676.6,559.4 698.9,560.5 721.2,547.9 743.5,556.2 765.9,560.5 788.2,557.3 810.5,560.5" stroke="#10c810" stroke-width="1"/>
<polyline points="185.6,560.5 207.9,560.5 230.3,560.5 252.6,560.5 274.9,560.5 297.2,560.5 319.5,560.5 341.8,560.5 364.2,560.5 386.5,560.5 408.8,560.5 431.1,560.5 453.4,560.5 475.7,560.5 498.1,560.5 520.4,560.5 542.7,560.5 565.0,560.5 587.3,560.5 609.6,560.5 632.0,557.4 654.3,560.5 676.6,560.2 698.9,552.4 721.2,560.5 743.5,560.5 765.9,543.6 788.2,543.7 810.5,560.5" stroke="#c8c310" stroke-width="1"/>
<polyline points="185.6,560.5 207.9,560.5 230.3,560.5 252.6,560.5 274.9,560.5 297.2,560.5 319.5,560.5 341.8,560.5 364.2,560.5 386.5,560.5 408.8,560.5 431.1,560.5 453.4,560.5 475.7,560.5 498.1,560.5 520.4,560.5 542.7,560.5 565.0,560.5 587.3,560.5 609.6,560.5 632.0,557.9 654.3,524.7 676.6,552.5 698.9,536.1 721.2,551.0 743.5,559.3 765.9,557.4 788.2,555.3 810.5,560.5" stroke="#c8b210" stroke-width="1"/>
<polyline points="185.6,560.5 207.9,560.5 230.3,560.5 252.6,560.5 274.9,560.5 297.2,560.5 319.5,560.5 341.8,560.5 364.2,560.5 386.5,560.5 408.8,560.5 431.1,560.5 453.4,547.2 475.7,560.5 498.1,560.5 520.4,560.5 542.7,560.5 565.0,560.5 587.3,560.5 609.6,560.5 632.0,560.5 654.3,555.5 676.6,560.5 698.9,559.0 721.2,558.6 743.5,552.9 765.9,560.5 788.2,560.5 810.5,560.2" stroke="#c8a010" stroke-width="1"/>
<polyline points="185.6,560.5 207.9,560.5 230.3,560.5 252.6,560.5 274.9,560.5 297.2,560.5 319.5,560.5 341.8,560.5 364.2,560.5 386.5,560.5 408.8,560.5 431.1,560.5 453.4,560.5 475.7,560.5 498.1,560.5 520.4,560.5 542.7,560.5 565.0,560.5 587.3,560.5 609.6,560.5 632.0,560.5 654.3,553.9 676.6,481.0 698.9,534.0 721.2,560.5 743.5,560.5 765.9,558.0 788.2,560.4 810.5,545.1" stroke="#cd8c10" stroke-width="1"/>
<polyline points="185.6,560.5 207.9,560.5 230.3,560.5 252.6,560.5 274.9,560.5 297.2,560.5 319.5,560.5 341.8,560.5 364.2,560.5 386.5,560.5 408.8,560.5 431.1,560.5 453.4,560.5 475.7,560.5 498.1,560.5 520.4,560.5 542.7,560.5 565.0,560.5 587.3,560.5 609.6,560.5 632.0,560.5 654.3,559.8 676.6,560.5 698.9,559.9 721.2,547.2 743.5,486.3 765.9,534.0 788.2,560.5 810.5,560.5" stroke="#cd7810" stroke-width="1"/>
<polyline points="185.6,560.5 207.9,560.5 230.3,560.5 252.6,560.5 274.9,560.5 297.2,560.5 319.5,560.5 341.8,560.5 364.2,560.5 386.5,560.5 408.8,560.5 431.1,560.5 453.4,560.5 475.7,560.5 498.1,560.5 520.4,560.5 542.7,560.5 565.0,560.5 587.3,560.5 609.6,560.5 632.0,553.4 654.3,555.2 676.6,507.5 698.9,547.2 721.2,560.5 743.5,560.5 765.9,558.8 788.2,560.5 810.5,555.4" stroke="#c86410" stroke-width="1"/>
<polyline points="185.6,560.5 207.9,560.5 230.3,560.5 252.6,560.5 274.9,560.5 297.2,560.5 319.5,560.5 341.8,560.5 364.2,560.5 386.5,560.5 408.8,560.5 431.1,560.5 453.4,560.5 475.7,560.5 498.1,560.5 520.4,560.5 542.7,560.5 565.0,560.5 587.3,560.5 609.6,560.5 632.0,560.5 654.3,556.5 676.6,560.5 698.9,560.5 721.2,559.3 743.5,560.5 765.9,556.5 788.2,520.8 810.5,479.7" stroke="#c85814" stroke-width="1"/>
<polyline points="185.6,560.5 207.9,560.5 230.3,560.5 252.6,560.5 274.9,560.5 297.2,560.5 319.5,560.5 341.8,560.5 364.2,560.5 386.5,560.5 408.8,560.5 431.1,560.5 453.4,560.5 475.7,560.5 498.1,560.5 520.4,560.5 542.7,560.5 565.0,560.5 587.3,560.5 609.6,560.5 632.0,560.5 654.3,554.2 676.6,548.1 698.9,536.0 721.2,557.7 743.5,560.5 765.9,547.8 788.2,560.5 810.5,560.5" stroke="#c8441e" stroke-width="1"/>
<polyline points="185.6,560.5 207.9,560.5 230.3,560.5 252.6,560.5 274.9,560.5 297.2,560.5 319.5,560.5 341.8,560.5 364.2,560.5 386.5,560.5 408.8,560.5 431.1,560.5 453.4,560.5 475.7,560.5 498.1,560.5 520.4,560.5 542.7,560.5 565.0,560.5 587.3,560.5 609.6,560.5 632.0,553.9 654.3,534.0 676.6,547.2 698.9,507.5 721.2,510.1 743.5,527.4 765.9,550.5 788.2,558.7 810.5,559.1" stroke="#b4281e" stroke-width="1"/>
<polyline points="185.6,560.5 207.9,560.5 230.3,560.5 252.6,560.5 274.9,560.5 297.2,560.5 319.5,560.5 341.8,560.5 364.2,560.5 386.5,560.5 408.8,560.5 431.1,560.5 453.4,560.5 475.7,560.5 498.1,560.5 520.4,560.5 542.7,560.5 565.0,560.5 587.3,560.5 609.6,560.5 632.0,560.5 654.3,560.5 676.6,559.6 698.9,524.3 721.2,560.5 743.5,552.1 765.9,560.5 788.2,553.9 810.5,534.0" stroke="#a01616" stroke-width="1"/>
<polyline points="185.6,560.5 207.9,560.5 230.3,560.5 252.6,560.5 274.9,560.5 297.2,560.5 319.5,560.5 341.8,560.5 364.2,560.5 386.5,560.5 408.8,560.5 431.1,560.5 453.4,560.5 475.7,560.5 498.1,560.5 520.4,560.5 542.7,560.5 565.0,560.5 587.3,560.5 609.6,560.5 632.0,560.5 654.3,551.5 676.6,560.5 698.9,556.5 721.2,560.5 743.5,560.5 765.9,554.3 788.2,560.1 810.5,559.8" stroke="#105ad7" stroke-width="1"/>
<polyline points="185.6,560.5 207.9,560.5 230.3,560.5 252.6,560.5 274.9,560.5 297.2,560.5 319.5,560.5 341.8,560.5 364.2,560.5 386.5,560.5 408.8,560.5 431.1,560.5 453.4,560.5 475.7,560.5 498.1,560.5 520.4,560.5 542.7,560.5 565.0,560.5 587.3,560.5 609.6,560.5 632.0,560.5 654.3,547.7 676.6,555.0 698.9,559.5 721.2,558.4 743.5,547.2 765.9,494.2 788.2,534.0 810.5,560.5" stroke="#1478c8" stroke-width="1"/>
<polyline points="185.6,560.5 207.9,560.5 230.3,560.5 252.6,560.5 274.9,560.5 297.2,560.5 319.5,560.5 341.8,560.5 364.2,560.5 386.5,560.5 408.8,560.5 431.1,560.5 453.4,560.5 475.7,560.5 498.1,560.5 520.4,560.5 542.7,560.5 565.0,560.5 587.3,560.5 609.6,560.5 632.0,560.5 654.3,553.0 676.6,560.5 698.9,558.1 721.2,560.5 743.5,560.5 765.9,560.2 788.2,560.5 810.5,560.5" stroke="#109bcd" stroke-width="1"/>
<polyline points="185.6,560.5 207.9,560.5 230.3,560.5 252.6,560.5 274.9,560.5 297.2,560.5 319.5,560.5 341.8,560.5 364.2,560.5 386.5,560.5 408.8,560.5 431.1,560.5 453.4,560.5 475.7,560.5 498.1,560.5 520.4,560.5 542.7,560.5 565.0,560.5 587.3,560.5 609.6,560.5 632.0,560.5 654.3,560.5 676.6,552.9 698.9,560.5 721.2,560.5 743.5,553.6 765.9,558.7 788.2,560.5 810.5,560.5" stroke="#10b4c8" stroke-width="1"/>
<polyline points="185.6,560.5 207.9,560.5 230.3,560.5 252.6,560.5 274.9,560.5 297.2,560.5 319.5,560.5 341.8,560.5 364.2,560.5 386.5,560.5 408.8,560.5 431.1,560.5 453.4,560.5 475.7,560.5 498.1,560.5 520.4,560.5 542.7,560.5 565.0,560.5 587.3,560.5 609.6,557.9 632.0,536.6 654.3,457.1 676.6,437.3 698.9,484.3 721.2,487.6 743.5,547.2 765.9,558.8 788.2,535.9 810.5,560.5" stroke="#10af8c" stroke-width="1"/>
<polyline points="185.6,560.5 207.9,560.5 230.3,560.5 252.6,560.5 274.9,560.5 297.2,560.5 319.5,560.5 341.8,560.5 364.2,560.5 386.5,560.5 408.8,560.5 431.1,560.5 453.4,560.5 475.7,560.5 498.1,560.5 520.4,560.5 542.7,560.5 565.0,560.5 587.3,560.5 609.6,560.5 632.0,560.5 654.3,560.5 676.6,551.7 698.9,559.4 721.2,560.5 743.5,560.5 765.9,548.0 788.2,548.6 810.5,558.3" stroke="#10af6e" stroke-width="1"/>
<polyline points="185.6,560.5 207.9,560.5 230.3,560.5 252.6,560.5 274.9,560.5 297.2,560.5 319.5,560.5 341.8,560.5 364.2,560.5 386.5,560.5 408.8,560.5 431.1,560.5 453.4,560.5 475.7,560.5 498.1,560.5 520.4,560.5 542.7,560.5 565.0,560.5 587.3,560.5 609.6,560.5 632.0,560.5 654.3,553.0 676.6,552.8 698.9,547.6 721.2,560.5 743.5,560.5 765.9,560.5 788.2,560.5 810.5,560.5" stroke="#10b44b" stroke-width="1"/>
<polyline points="185.6,560.5 207.9,560.5 230.3,560.5 252.6,560.5 274.9,560.5 297.2,560.5 319.5,560.5 341.8,560.5 364.2,560.5 386.5,560.5 408.8,560.5 431.1,560.5 453.4,560.5 475.7,560.5 498.1,560.5 520.4,560.5 542.7,560.5 565.0,560.5 587.3,560.5 609.6,560.5 632.0,560.5 654.3,560.3 676.6,558.9 698.9,560.5 721.2,560.5 743.5,560.5 765.9,560.5 788.2,560.5 810.5,560.5" stroke="#10be28" stroke-width="1"/>
<polyline points="185.6,560.5 207.9,560.5 230.3,560.5 252.6,560.5 274.9,560.5 297.2,560.5 319.5,560.5 341.8,560.5 364.2,560.5 386.5,560.5 408.8,560.5 431.1,560.5 453.4,560.5 475.7,560.5 498.1,560.5 520.4,560.5 542.7,560.5 565.0,560.5 587.3,560.5 609.6,560.5 632.0,560.5 654.3,560.5 676.6,557.9 698.9,545.7 721.2,559.1 743.5,560.5 765.9,553.4 788.2,560.5 810.5,560.5" stroke="#10c810" stroke-width="1"/>
<polyline points="185.6,560.5 207.9,560.5 230.3,560.5 252.6,560.5 274.9,560.5 297.2,560.5 319.5,560.5 341.8,560.5 364.2,560.5 386.5,560.5 408.8,560.5 431.1,560.5 453.4,560.5 475.7,560.5 498.1,560.5 520.4,560.5 542.7,560.5 565.0,560.5 587.3,560.5 609.6,560.5 632.0,560.5 654.3,560.5 676.6,554.1 698.9,550.3 721.2,550.6 743.5,553.9 765.9,477.0 788.2,547.2 810.5,560.5" stroke="#c8c310" stroke-width="1"/>
<polyline points="185.6,560.5 207.9,560.5 230.3,560.5 252.6,560.5 274.9,560.5 297.2,560.5 319.5,560.5 341.8,560.5 364.2,560.5 386.5,560.5 408.8,560.5 431.1,560.5 453.4,560.5 475.7,560.5 498.1,560.5 520.4,560.5 542.7,560.5 565.0,560.5 587.3,560.5 609.6,560.5 632.0,560.5 654.3,560.5 676.6,556.5 698.9,461.1 721.2,540.6 743.5,560.5 765.9,560.5 788.2,539.4 810.5,558.9" stroke="#c8b210" stroke-width="1"/>
<polyline points="185.6,560.5 207.9,560.5 230.3,560.5 252.6,560.5 274.9,560.5 297.2,560.5 319.5,560.5 341.8,560.5 364.2,560.5 386.5,560.5 408.8,560.5 431.1,560.5 453.4,560.5 475.7,560.5 498.1,560.5 520.4,560.5 542.7,560.5 565.0,560.5 587.3,560.5 609.6,560.5 632.0,560.5 654.3,551.5 676.6,554.3 698.9,541.7 721.2,560.5 743.5,557.8 765.9,560.5 788.2,554.7 810.5,560.5" stroke="#c8a010" stroke-width="1"/>
<polyline points="185.6,560.5 207.9,560.5 230.3,560.5 252.6,560.5 274.9,560.5 297.2,560.5 319.5,560.5 341.8,560.5 364.2,560.5 386.5,560.5 408.8,560.5 431.1,560.5 453.4,560.5 475.7,560.5 498.1,560.5 520.4,560.5 542.7,560.5 565.0,560.5 587.3,560.5 609.6,560.5 632.0,552.9 654.3,560.5 676.6,556.6 698.9,550.1 721.2,560.5 743.5,560.5 765.9,560.5 788.2,539.7 810.5,560.1" stroke="#cd8c10" stroke-width="1"/>
<polyline points="185.6,560.5 207.9,560.5 230.3,560.5 252.6,560.5 274.9,560.5 297.2,560.5 319.5,560.5 341.8,560.5 364.2,560.5 386.5,552.0 408.8,560.5 431.1,560.5 453.4,560.5 475.7,560.5 498.1,560.5 520.4,560.5 542.7,540.0 565.0,560.5 587.3,560.5 609.6,560.5 632.0,560.5 654.3,560.5 676.6,560.5 698.9,560.5 721.2,552.6 743.5,560.2 765.9,553.1 788.2,555.5 810.5,545.5" stroke="#cd7810" stroke-width="1"/>
<polyline points="185.6,560.5 207.9,560.5 230.3,560.5 252.6,560.5 274.9,560.5 297.2,560.5 319.5,560.5 341.8,560.5 364.2,560.5 386.5,560.5 408.8,560.5 431.1,560.5 453.4,560.5 475.7,560.5 498.1,560.5 520.4,560.5 542.7,560.5 565.0,560.5 587.3,560.5 609.6,560.5 632.0,560.5 654.3,560.5 676.6,551.0 698.9,550.8 721.2,560.5 743.5,559.1 765.9,560.5 788.2,551.7 810.5,560.5" stroke="#c86410" stroke-width="1"/>
<polyline points="185.6,560.5 207.9,560.5 230.3,560.5 252.6,560.5 274.9,560.5 297.2,560.5 319.5,560.5 341.8,560.5 364.2,560.5 386.5,560.5 408.8,560.5 431.1,560.5 453.4,560.5 475.7,560.5 498.1,560.5 520.4,560.5 542.7,560.5 565.0,560.5 587.3,560.5 609.6,560.5 632.0,560.5 654.3,560.5 676.6,560.5 698.9,560.5 721.2,560.5 743.5,560.5 765.9,560.5 788.2,558.2 810.5,553.5" stroke="#c85814" stroke-width="1"/>
<polyline points="185.6,560.5 207.9,560.5 230.3,560.5 252.6,560.5 274.9,560.5 297.2,560.5 319.5,560.5 341.8,560.5 364.2,560.5 386.5,560.5 408.8,560.5 431.1,560.5 453.4,560.5 475.7,560.5 498.1,560.5 520.4,560.5 542.7,560.5 565.0,560.5 587.3,560.5 609.6,560.5 632.0,560.5 654.3,560.5 676.6,557.3 698.9,560.5 721.2,559.2 743.5,555.6 765.9,555.8 788.2,560.5 810.5,560.5" stroke="#c8441e" stroke-width="1"/>
<polyline points="185.6,560.5 207.9,560.5 230.3,560.5 252.6,560.5 274.9,560.5 297.2,560.5 319.5,560.5 341.8,560.5 364.2,560.5 386.5,560.5 408.8,560.5 431.1,560.5 453.4,560.5 475.7,560.5 498.1,560.5 520.4,560.5 542.7,560.5 565.0,560.5 587.3,560.5 609.6,560.5 632.0,560.5 654.3,560.5 676.6,560.5 698.9,553.8 721.2,555.8 743.5,555.2 765.9,518.1 788.2,547.2 810.5,556.3" stroke="#b4281e" stroke-width="1"/>
<polyline points="185.6,560.5 207.9,560.5 230.3,560.5 252.6,560.5 274.9,560.5 297.2,560.5 319.5,560.5 341.8,560.5 364.2,560.5 386.5,560.5 408.8,560.5 431.1,560.5 453.4,560.5 475.7,540.0 498.1,560.5 520.4,552.9 542.7,560.5 565.0,560.5 587.3,560.5 609.6,560.5 632.0,546.6 654.3,560.5 676.6,560.5 698.9,560.5 721.2,556.6 743.5,545.6 765.9,555.9 788.2,548.6 810.5,559.9" stroke="#a01616" stroke-width="1"/>
<polyline points="185.6,560.5 207.9,560.5 230.3,560.5 252.6,560.5 274.9,560.5 297.2,560.5 319.5,560.5 341.8,560.5 364.2,560.5 386.5,560.5 408.8,560.5 431.1,560.5 453.4,560.5 475.7,560.5 498.1,560.5 520.4,560.5 542.7,560.5 565.0,560.5 587.3,560.5 609.6,560.5 632.0,555.5 654.3,558.3 676.6,545.5 698.9,542.7 721.2,560.5 743.5,560.5 765.9,557.0 788.2,560.5 810.5,560.4" stroke="#105ad7" stroke-width="1"/>
<polyline points="185.6,560.5 207.9,560.5 230.3,560.5 252.6,560.5 274.9,560.5 297.2,560.5 319.5,560.5 341.8,560.5 364.2,560.5 386.5,560.5 408.8,560.5 431.1,560.5 453.4,560.5 475.7,560.5 498.1,560.5 520.4,560.5 542.7,560.5 565.0,560.5 587.3,560.5 609.6,560.5 632.0,551.4 654.3,560.5 676.6,541.0 698.9,556.5 721.2,560.5 743.5,547.2 765.9,520.8 788.2,526.7 810.5,494.2" stroke="#1478c8" stroke-width="1"/>
<polyline points="185.6,560.5 207.9,560.5 230.3,560.5 252.6,560.5 274.9,560.5 297.2,560.5 319.5,560.5 341.8,560.5 364.2,560.5 386.5,560.5 408.8,560.5 431.1,560.5 453.4,560.5 475.7,560.5 498.1,560.5 520.4,560.5 542.7,560.5 565.0,560.5 587.3,560.5 609.6,560.5 632.0,560.5 654.3,536.7 676.6,560.5 698.9,560.5 721.2,553.9 743.5,560.5 765.9,556.6 788.2,559.3 810.5,556.2" stroke="#109bcd" stroke-width="1"/>
<polyline points="185.6,560.5 207.9,560.5 230.3,560.5 252.6,560.5 274.9,560.5 297.2,560.5 319.5,560.5 341.8,560.5 364.2,560.5 386.5,560.5 408.8,560.5 431.1,560.5 453.4,560.5 475.7,545.0 498.1,560.5 520.4,560.5 542.7,560.5 565.0,560.5 587.3,560.5 609.6,560.5 632.0,554.2 654.3,560.5 676.6,550.4 698.9,554.1 721.2,545.5 743.5,560.5 765.9,560.5 788.2,552.9 810.5,556.3" stroke="#10b4c8" stroke-width="1"/>
<polyline points="185.6,560.5 207.9,560.5 230.3,560.5 252.6,560.5 274.9,560.5 297.2,560.5 319.5,560.5 341.8,560.5 364.2,560.5 386.5,560.5 408.8,560.5 431.1,560.5 453.4,560.5 475.7,560.5 498.1,560.5 520.4,560.5 542.7,560.5 565.0,560.5 587.3,560.5 609.6,560.5 632.0,558.6 654.3,560.5 676.6,554.7 698.9,551.8 721.2,547.6 743.5,555.4 765.9,560.5 788.2,547.2 810.5,487.6" stroke="#10af8c" stroke-width="1"/>
<polyline points="185.6,560.5 207.9,560.5 230.3,560.5 252.6,560.5 274.9,560.5 297.2,560.5 319.5,560.5 341.8,560.5 364.2,560.5 386.5,560.5 408.8,560.5 431.1,560.5 453.4,560.5 475.7,560.5 498.1,560.5 520.4,560.5 542.7,560.5 565.0,560.5 587.3,560.5 609.6,560.5 632.0,560.5 654.3,550.3 676.6,560.5 698.9,560.5 721.2,541.1 743.5,550.1 765.9,560.5 788.2,557.2 810.5,559.3" stroke="#10af6e" stroke-width="1"/>
<polyline points="185.6,560.5 207.9,560.5 230.3,560.5 252.6,560.5 274.9,560.5 297.2,560.5 319.5,560.5 341.8,560.5 364.2,560.5 386.5,560.5 408.8,560.5 431.1,560.5 453.4,560.5 475.7,560.5 498.1,560.5 520.4,560.5 542.7,560.5 565.0,560.5 587.3,560.5 609.6,560.5 632.0,552.4 654.3,560.0 676.6,560.5 698.9,560.5 721.2,560.5 743.5,558.9 765.9,555.5 788.2,553.8 810.5,560.5" stroke="#10b44b" stroke-width="1"/>
<polyline points="185.6,560.5 207.9,560.5 230.3,560.5 252.6,560.5 274.9,560.5 297.2,560.5 319.5,560.5 341.8,560.5 364.2,560.5 386.5,560.5 408.8,560.5 431.1,560.5 453.4,560.5 475.7,560.5 498.1,560.5 520.4,560.5 542.7,560.5 565.0,560.5 587.3,560.5 609.6,560.5 632.0,544.3 654.3,558.2 676.6,555.7 698.9,553.3 721.2,560.0 743.5,560.3 765.9,560.5 788.2,523.2 810.5,546.9" stroke="#10be28" stroke-width="1"/>
<polyline points="185.6,560.5 207.9,560.5 230.3,560.5 252.6,560.5 274.9,560.5 297.2,560.5 319.5,560.5 341.8,560.5 364.2,560.5 386.5,560.5 408.8,560.5 431.1,560.5 453.4,560.5 475.7,560.5 498.1,560.5 520.4,560.5 542.7,560.5 565.0,560.5 587.3,560.5 609.6,560.5 632.0,560.5 654.3,560.5 676.6,556.5 698.9,560.5 721.2,560.5 743.5,555.2 765.9,560.3 788.2,557.7 810.5,556.4" stroke="#10c810" stroke-width="1"/>
<polyline points="185.6,560.5 207.9,560.5 230.3,560.5 252.6,560.5 274.9,560.5 297.2,560.5 319.5,560.5 341.8,560.5 364.2,560.5 386.5,560.5 408.8,560.5 431.1,560.5 453.4,560.5 475.7,560.5 498.1,560.5 520.4,560.5 542.7,560.5 565.0,560.5 587.3,560.5 609.6,560.5 632.0,556.9 654.3,547.1 676.6,560.5 698.9,560.5 721.2,558.0 743.5,560.5 765.9,560.5 788.2,560.5 810.5,560.5" stroke="#c8c310" stroke-width="1"/>
<polyline points="185.6,560.5 207.9,560.5 230.3,560.5 252.6,560.5 274.9,560.5 297.2,560.5 319.5,560.5 341.8,560.5 364.2,560.5 386.5,560.5 408.8,560.5 431.1,560.5 453.4,560.5 475.7,560.5 498.1,560.5 520.4,560.5 542.7,560.5 565.0,560.5 587.3,560.5 609.6,560.5 632.0,560.5 654.3,560.0 676.6,560.5 698.9,560.5 721.2,560.5 743.5,527.2 765.9,560.5 788.2,556.9 810.5,560.5" stroke="#c8b210" stroke-width="1"/>
<polyline points="185.6,560.5 207.9,560.5 230.3,560.5 252.6,560.5 274.9,560.5 297.2,560.5 319.5,560.5 341.8,560.5 364.2,560.5 386.5,560.5 408.8,560.5 431.1,560.5 453.4,560.5 475.7,560.5 498.1,560.5 520.4,560.5 542.7,560.5 565.0,560.5 587.3,560.5 609.6,560.5 632.0,560.5 654.3,560.5 676.6,551.0 698.9,531.0 721.2,560.5 743.5,560.5 765.9,560.5 788.2,560.5 810.5,560.5" stroke="#0000ff" stroke-width="3" stroke-linecap="butt"/>
<polyline points="185.6,560.5 207.9,560.5 230.3,560.5 252.6,560.5 274.9,560.5 297.2,560.5 319.5,560.5 341.8,560.5 364.2,560.5 386.5,560.5 408.8,560.5 431.1,560.5 453.4,560.5 475.7,560.5 498.1,560.5 520.4,560.5 542.7,560.5 565.0,560.5 587.3,560.5 609.6,560.3 632.0,558.0 654.3,552.8 676.6,548.3 698.9,545.1 721.2,549.8 743.5,555.0 765.9,551.0 788.2,552.3 810.5,552.8" stroke="#f0f0f0" stroke-width="3" stroke-linecap="butt"/>
<polyline points="185.6,560.5 207.9,560.5 230.3,560.5 252.6,560.5 274.9,560.5 297.2,560.5 319.5,560.5 341.8,560.5 364.2,560.5 386.5,560.5 408.8,560.5 431.1,560.5 453.4,560.5 475.7,560.5 498.1,560.5 520.4,560.5 542.7,560.5 565.0,560.5 587.3,560.5 609.6,560.5 632.0,560.5 654.3,560.5 676.6,541.2 698.9,560.5 721.2,560.5 743.5,560.5 765.9,560.5 788.2,560.5 810.5,560.5" stroke="#00e000" stroke-width="3" stroke-linecap="butt"/>
<polyline points="185.6,297.0 207.9,323.0 230.3,301.0 252.6,279.0 274.9,260.0 297.2,236.0 319.5,260.0 341.8,272.5 364.2,273.5 386.5,268.7 408.8,268.7 431.1,271.9 453.4,255.5 475.7,266.0 498.1,283.0 520.4,287.0 542.7,309.0 565.0,304.0 587.3,292.0 609.6,272.0 632.0,247.0 654.3,205.0 676.6,150.8 698.9,142.3 721.2,143.5 743.5,145.5 765.9,206.2 788.2,285.2 810.5,308.4" stroke="#0000ff" stroke-width="3"/>
<polyline points="185.6,296.1 207.9,321.5 230.3,301.0 252.6,280.6 274.9,262.2 297.2,244.0 319.5,266.7 341.8,275.4 364.2,279.3 386.5,271.6 408.8,271.5 431.1,268.0 453.4,261.3 475.7,271.9 498.1,277.7 520.4,286.5 542.7,300.0 565.0,303.0 587.3,291.0 609.6,276.0 632.0,250.0 654.3,215.0 676.6,179.8 698.9,157.3 721.2,156.3 743.5,162.3 765.9,176.5 788.2,210.0 810.5,235.0" stroke="#f0f0f0" stroke-width="3"/>
<polyline points="185.6,295.0 207.9,325.0 230.3,300.0 252.6,278.7 274.9,259.3 297.2,240.0 319.5,262.0 341.8,273.5 364.2,274.5 386.5,266.7 408.8,272.0 431.1,270.0 453.4,257.4 475.7,268.0 498.1,277.3 520.4,284.0 542.7,302.0 565.0,301.0 587.3,289.0 609.6,270.5 632.0,241.7 654.3,196.5 676.6,152.0 698.9,136.3 721.2,142.5 743.5,148.1 765.9,177.8 788.2,268.0 810.5,295.5" stroke="#00e000" stroke-width="3"/>
<polyline points="185.6,224.3 207.9,231.2 230.3,230.0 252.6,234.3 274.9,229.4 297.2,229.2 319.5,227.7 341.8,230.4 364.2,228.4 386.5,230.4 408.8,231.2 431.1,238.6 453.4,238.6 475.7,239.0 498.1,235.1 520.4,238.0 542.7,235.5 565.0,231.0 587.3,229.0 609.6,228.5 632.0,229.5 654.3,228.5 676.6,227.5 698.9,226.9 721.2,226.8 743.5,230.2 765.9,231.5 788.2,236.5 810.5,244.0" stroke="#e84040" stroke-width="3"/>
</g>
<path d="M810.5 547.5h-3.5 M810.5 533.5h-5.5 M810.5 520.5h-3.5 M810.5 507.5h-5.5 M810.5 494.5h-3.5 M810.5 480.5h-5.5 M810.5 467.5h-3.5 M810.5 454.5h-5.5 M810.5 441.5h-3.5 M810.5 427.5h-5.5 M810.5 414.5h-3.5 M810.5 401.5h-5.5 M810.5 388.5h-3.5 M810.5 374.5h-5.5 M810.5 361.5h-3.5 M810.5 348.5h-5.5 M810.5 335.5h-3.5 M810.5 321.5h-5.5 M810.5 308.5h-3.5 M810.5 295.5h-5.5 M810.5 282.5h-3.5 M810.5 268.5h-5.5 M810.5 255.5h-3.5 M810.5 242.5h-5.5 M810.5 229.5h-3.5 M810.5 215.5h-5.5 M810.5 202.5h-3.5 M810.5 189.5h-5.5 M810.5 176.5h-3.5 M810.5 162.5h-5.5 M810.5 149.5h-3.5 M810.5 136.5h-5.5 M810.5 123.5h-3.5 M810.5 109.5h-5.5 M810.5 96.5h-3.5 M810.5 83.5h-5.5 M810.5 70.5h-3.5 M810.5 56.5h-5.5 M810.5 43.5h-3.5" stroke="#ddd" stroke-width="1" fill="none"/>
<rect x="163.5" y="30.5" width="647" height="530" fill="none" stroke="#ddd" stroke-width="1"/>
<text x="152.50" y="34.10" font-size="10.42" textLength="13.26" lengthAdjust="spacing" text-anchor="end" style="white-space:pre">15</text>
<text x="152.50" y="93.10" font-size="10.42" textLength="13.26" lengthAdjust="spacing" text-anchor="end" style="white-space:pre">10</text>
<text x="152.50" y="152.10" font-size="10.42" textLength="6.63" lengthAdjust="spacing" text-anchor="end" style="white-space:pre">5</text>
<text x="152.50" y="211.10" font-size="10.42" textLength="6.63" lengthAdjust="spacing" text-anchor="end" style="white-space:pre">0</text>
<text x="152.50" y="270.10" font-size="10.42" textLength="10.39" lengthAdjust="spacing" text-anchor="end" style="white-space:pre">-5</text>
<text x="152.50" y="328.10" font-size="10.42" textLength="17.02" lengthAdjust="spacing" text-anchor="end" style="white-space:pre">-10</text>
<text x="152.50" y="387.10" font-size="10.42" textLength="17.02" lengthAdjust="spacing" text-anchor="end" style="white-space:pre">-15</text>
<text x="152.50" y="446.10" font-size="10.42" textLength="17.02" lengthAdjust="spacing" text-anchor="end" style="white-space:pre">-20</text>
<text x="152.50" y="505.10" font-size="10.42" textLength="17.02" lengthAdjust="spacing" text-anchor="end" style="white-space:pre">-25</text>
<text x="152.50" y="564.10" font-size="10.42" textLength="17.02" lengthAdjust="spacing" text-anchor="end" style="white-space:pre">-30</text>
<text x="817.00" y="564.20" font-size="10.42" textLength="6.63" lengthAdjust="spacing" style="white-space:pre">0</text>
<text x="817.00" y="431.20" font-size="10.42" textLength="13.26" lengthAdjust="spacing" style="white-space:pre">10</text>
<text x="817.00" y="299.20" font-size="10.42" textLength="13.26" lengthAdjust="spacing" style="white-space:pre">20</text>
<text x="817.00" y="166.20" font-size="10.42" textLength="13.26" lengthAdjust="spacing" style="white-space:pre">30</text>
<text x="817.00" y="34.20" font-size="10.42" textLength="13.26" lengthAdjust="spacing" style="white-space:pre">40</text>
<text x="161.75" y="579.00" font-size="10.42" textLength="51.36" lengthAdjust="spacing" text-anchor="middle" style="white-space:pre">12Jan 00z</text>
<text x="251.02" y="579.00" font-size="10.42" textLength="51.36" lengthAdjust="spacing" text-anchor="middle" style="white-space:pre">13Jan 00z</text>
<text x="340.29" y="579.00" font-size="10.42" textLength="51.36" lengthAdjust="spacing" text-anchor="middle" style="white-space:pre">14Jan 00z</text>
<text x="429.55" y="579.00" font-size="10.42" textLength="51.36" lengthAdjust="spacing" text-anchor="middle" style="white-space:pre">15Jan 00z</text>
<text x="518.82" y="579.00" font-size="10.42" textLength="51.36" lengthAdjust="spacing" text-anchor="middle" style="white-space:pre">16Jan 00z</text>
<text x="608.09" y="579.00" font-size="10.42" textLength="51.36" lengthAdjust="spacing" text-anchor="middle" style="white-space:pre">17Jan 00z</text>
<text x="697.36" y="579.00" font-size="10.42" textLength="51.36" lengthAdjust="spacing" text-anchor="middle" style="white-space:pre">18Jan 00z</text>
<text x="786.63" y="579.00" font-size="10.42" textLength="51.36" lengthAdjust="spacing" text-anchor="middle" style="white-space:pre">19Jan 00z</text>
<text transform="translate(133.20,297.10) rotate(-90)" font-size="10.42" textLength="101.53" lengthAdjust="spacing" text-anchor="middle" style="white-space:pre">850 hPa Temp. (°C)</text>
<text transform="translate(842.00,296.80) rotate(-90)" font-size="10.42" textLength="101.31" lengthAdjust="spacing" text-anchor="middle" style="white-space:pre">Niederschlag (mm)</text>
<text x="485.40" y="597.00" font-size="10.42" textLength="57.00" lengthAdjust="spacing" text-anchor="middle" style="white-space:pre">Date (UTC)</text>
<text x="433.50" y="18.10" font-size="15.97" textLength="735.65" lengthAdjust="spacing" text-anchor="middle" font-weight="bold" style="white-space:pre">Budapest XVIII. kerület  (HU)  850 hPa Temp. &amp; Niederschlag | Fri, 12Jan2024 00Z</text>
<text x="119.60" y="605.30" font-size="15.97" textLength="257.85" lengthAdjust="spacing" style="white-space:pre;fill:#f2f2f2">ECMWF Ensemble, 47.6N, 19.2E</text>
<text x="650.00" y="605.00" font-size="15.97" textLength="145.34" lengthAdjust="spacing" style="white-space:pre;fill:#f2f2f2">Wetterzentrale.de</text>
<path d="M-4.0 43.9h11" stroke="#1428c8" stroke-width="2"/>
<text x="6.80" y="46.10" font-size="10.42" textLength="12.91" lengthAdjust="spacing" style="white-space:pre">P1</text>
<path d="M54.0 43.9h11" stroke="#105ad7" stroke-width="2"/>
<text x="64.90" y="46.10" font-size="10.42" textLength="12.91" lengthAdjust="spacing" style="white-space:pre">P2</text>
<path d="M-4.0 61.9h11" stroke="#1478c8" stroke-width="2"/>
<text x="6.80" y="64.10" font-size="10.42" textLength="12.91" lengthAdjust="spacing" style="white-space:pre">P3</text>
<path d="M54.0 61.9h11" stroke="#109bcd" stroke-width="2"/>
<text x="64.90" y="64.10" font-size="10.42" textLength="12.91" lengthAdjust="spacing" style="white-space:pre">P4</text>
<path d="M-4.0 79.9h11" stroke="#10b4c8" stroke-width="2"/>
<text x="6.80" y="82.10" font-size="10.42" textLength="12.91" lengthAdjust="spacing" style="white-space:pre">P5</text>
<path d="M54.0 79.9h11" stroke="#10af8c" stroke-width="2"/>
<text x="64.90" y="82.10" font-size="10.42" textLength="12.91" lengthAdjust="spacing" style="white-space:pre">P6</text>
<path d="M-4.0 97.9h11" stroke="#10af6e" stroke-width="2"/>
<text x="6.80" y="100.10" font-size="10.42" textLength="12.91" lengthAdjust="spacing" style="white-space:pre">P7</text>
<path d="M54.0 97.9h11" stroke="#10b44b" stroke-width="2"/>
<text x="64.90" y="100.10" font-size="10.42" textLength="12.91" lengthAdjust="spacing" style="white-space:pre">P8</text>
<path d="M-4.0 115.9h11" stroke="#10be28" stroke-width="2"/>
<text x="6.80" y="118.10" font-size="10.42" textLength="12.91" lengthAdjust="spacing" style="white-space:pre">P9</text>
<path d="M54.0 115.9h11" stroke="#10c810" stroke-width="2"/>
<text x="64.90" y="118.10" font-size="10.42" textLength="19.54" lengthAdjust="spacing" style="white-space:pre">P10</text>
<path d="M-4.0 133.9h11" stroke="#c8c310" stroke-width="2"/>
<text x="6.80" y="136.10" font-size="10.42" textLength="19.54" lengthAdjust="spacing" style="white-space:pre">P11</text>
<path d="M54.0 133.9h11" stroke="#c8b210" stroke-width="2"/>
<text x="64.90" y="136.10" font-size="10.42" textLength="19.54" lengthAdjust="spacing" style="white-space:pre">P12</text>
<path d="M-4.0 151.9h11" stroke="#c8a010" stroke-width="2"/>
<text x="6.80" y="154.10" font-size="10.42" textLength="19.54" lengthAdjust="spacing" style="white-space:pre">P13</text>
<path d="M54.0 151.9h11" stroke="#cd8c10" stroke-width="2"/>
<text x="64.90" y="154.10" font-size="10.42" textLength="19.54" lengthAdjust="spacing" style="white-space:pre">P14</text>
<path d="M-4.0 169.9h11" stroke="#cd7810" stroke-width="2"/>
<text x="6.80" y="172.10" font-size="10.42" textLength="19.54" lengthAdjust="spacing" style="white-space:pre">P15</text>
<path d="M54.0 169.9h11" stroke="#c86410" stroke-width="2"/>
<text x="64.90" y="172.10" font-size="10.42" textLength="19.54" lengthAdjust="spacing" style="white-space:pre">P16</text>
<path d="M-4.0 187.9h11" stroke="#c85814" stroke-width="2"/>
<text x="6.80" y="190.10" font-size="10.42" textLength="19.54" lengthAdjust="spacing" style="white-space:pre">P17</text>
<path d="M54.0 187.9h11" stroke="#c8441e" stroke-width="2"/>
<text x="64.90" y="190.10" font-size="10.42" textLength="19.54" lengthAdjust="spacing" style="white-space:pre">P18</text>
<path d="M-4.0 205.9h11" stroke="#b4281e" stroke-width="2"/>
<text x="6.80" y="208.10" font-size="10.42" textLength="19.54" lengthAdjust="spacing" style="white-space:pre">P19</text>
<path d="M54.0 205.9h11" stroke="#a01616" stroke-width="2"/>
<text x="64.90" y="208.10" font-size="10.42" textLength="19.54" lengthAdjust="spacing" style="white-space:pre">P20</text>
<path d="M-4.0 223.9h11" stroke="#105ad7" stroke-width="2"/>
<text x="6.80" y="226.10" font-size="10.42" textLength="19.54" lengthAdjust="spacing" style="white-space:pre">P21</text>
<path d="M54.0 223.9h11" stroke="#1478c8" stroke-width="2"/>
<text x="64.90" y="226.10" font-size="10.42" textLength="19.54" lengthAdjust="spacing" style="white-space:pre">P22</text>
<path d="M-4.0 241.9h11" stroke="#109bcd" stroke-width="2"/>
<text x="6.80" y="244.10" font-size="10.42" textLength="19.54" lengthAdjust="spacing" style="white-space:pre">P23</text>
<path d="M54.0 241.9h11" stroke="#10b4c8" stroke-width="2"/>
<text x="64.90" y="244.10" font-size="10.42" textLength="19.54" lengthAdjust="spacing" style="white-space:pre">P24</text>
<path d="M-4.0 259.9h11" stroke="#10af8c" stroke-width="2"/>
<text x="6.80" y="262.10" font-size="10.42" textLength="19.54" lengthAdjust="spacing" style="white-space:pre">P25</text>
<path d="M54.0 259.9h11" stroke="#10af6e" stroke-width="2"/>
<text x="64.90" y="262.10" font-size="10.42" textLength="19.54" lengthAdjust="spacing" style="white-space:pre">P26</text>
<path d="M-4.0 277.9h11" stroke="#10b44b" stroke-width="2"/>
<text x="6.80" y="280.10" font-size="10.42" textLength="19.54" lengthAdjust="spacing" style="white-space:pre">P27</text>
<path d="M54.0 277.9h11" stroke="#10be28" stroke-width="2"/>
<text x="64.90" y="280.10" font-size="10.42" textLength="19.54" lengthAdjust="spacing" style="white-space:pre">P28</text>
<path d="M-4.0 295.9h11" stroke="#10c810" stroke-width="2"/>
<text x="6.80" y="298.10" font-size="10.42" textLength="19.54" lengthAdjust="spacing" style="white-space:pre">P29</text>
<path d="M54.0 295.9h11" stroke="#c8c310" stroke-width="2"/>
<text x="64.90" y="298.10" font-size="10.42" textLength="19.54" lengthAdjust="spacing" style="white-space:pre">P30</text>
<path d="M-4.0 313.9h11" stroke="#c8b210" stroke-width="2"/>
<text x="6.80" y="316.10" font-size="10.42" textLength="19.54" lengthAdjust="spacing" style="white-space:pre">P31</text>
<path d="M54.0 313.9h11" stroke="#c8a010" stroke-width="2"/>
<text x="64.90" y="316.10" font-size="10.42" textLength="19.54" lengthAdjust="spacing" style="white-space:pre">P32</text>
<path d="M-4.0 331.9h11" stroke="#cd8c10" stroke-width="2"/>
<text x="6.80" y="334.10" font-size="10.42" textLength="19.54" lengthAdjust="spacing" style="white-space:pre">P33</text>
<path d="M54.0 331.9h11" stroke="#cd7810" stroke-width="2"/>
<text x="64.90" y="334.10" font-size="10.42" textLength="19.54" lengthAdjust="spacing" style="white-space:pre">P34</text>
<path d="M-4.0 349.9h11" stroke="#c86410" stroke-width="2"/>
<text x="6.80" y="352.10" font-size="10.42" textLength="19.54" lengthAdjust="spacing" style="white-space:pre">P35</text>
<path d="M54.0 349.9h11" stroke="#c85814" stroke-width="2"/>
<text x="64.90" y="352.10" font-size="10.42" textLength="19.54" lengthAdjust="spacing" style="white-space:pre">P36</text>
<path d="M-4.0 367.9h11" stroke="#c8441e" stroke-width="2"/>
<text x="6.80" y="370.10" font-size="10.42" textLength="19.54" lengthAdjust="spacing" style="white-space:pre">P37</text>
<path d="M54.0 367.9h11" stroke="#b4281e" stroke-width="2"/>
<text x="64.90" y="370.10" font-size="10.42" textLength="19.54" lengthAdjust="spacing" style="white-space:pre">P38</text>
<path d="M-4.0 385.9h11" stroke="#a01616" stroke-width="2"/>
<text x="6.80" y="388.10" font-size="10.42" textLength="19.54" lengthAdjust="spacing" style="white-space:pre">P39</text>
<path d="M54.0 385.9h11" stroke="#105ad7" stroke-width="2"/>
<text x="64.90" y="388.10" font-size="10.42" textLength="19.54" lengthAdjust="spacing" style="white-space:pre">P40</text>
<path d="M-4.0 403.9h11" stroke="#1478c8" stroke-width="2"/>
<text x="6.80" y="406.10" font-size="10.42" textLength="19.54" lengthAdjust="spacing" style="white-space:pre">P41</text>
<path d="M54.0 403.9h11" stroke="#109bcd" stroke-width="2"/>
<text x="64.90" y="406.10" font-size="10.42" textLength="19.54" lengthAdjust="spacing" style="white-space:pre">P42</text>
<path d="M-4.0 421.9h11" stroke="#10b4c8" stroke-width="2"/>
<text x="6.80" y="424.10" font-size="10.42" textLength="19.54" lengthAdjust="spacing" style="white-space:pre">P43</text>
<path d="M54.0 421.9h11" stroke="#10af8c" stroke-width="2"/>
<text x="64.90" y="424.10" font-size="10.42" textLength="19.54" lengthAdjust="spacing" style="white-space:pre">P44</text>
<path d="M-4.0 439.9h11" stroke="#10af6e" stroke-width="2"/>
<text x="6.80" y="442.10" font-size="10.42" textLength="19.54" lengthAdjust="spacing" style="white-space:pre">P45</text>
<path d="M54.0 439.9h11" stroke="#10b44b" stroke-width="2"/>
<text x="64.90" y="442.10" font-size="10.42" textLength="19.54" lengthAdjust="spacing" style="white-space:pre">P46</text>
<path d="M-4.0 457.9h11" stroke="#10be28" stroke-width="2"/>
<text x="6.80" y="460.10" font-size="10.42" textLength="19.54" lengthAdjust="spacing" style="white-space:pre">P47</text>
<path d="M54.0 457.9h11" stroke="#10c810" stroke-width="2"/>
<text x="64.90" y="460.10" font-size="10.42" textLength="19.54" lengthAdjust="spacing" style="white-space:pre">P48</text>
<path d="M-4.0 475.9h11" stroke="#c8c310" stroke-width="2"/>
<text x="6.80" y="478.10" font-size="10.42" textLength="19.54" lengthAdjust="spacing" style="white-space:pre">P49</text>
<path d="M54.0 475.9h11" stroke="#c8b210" stroke-width="2"/>
<text x="64.90" y="478.10" font-size="10.42" textLength="19.54" lengthAdjust="spacing" style="white-space:pre">P50</text>
<path d="M-4 493.9h11" stroke="#0000ff" stroke-width="2"/>
<text x="6.80" y="496.10" font-size="10.42" textLength="37.67" lengthAdjust="spacing" style="white-space:pre">Control</text>
<path d="M54 493.9h11" stroke="#ffffff" stroke-width="2"/>
<text x="64.90" y="496.10" font-size="10.42" textLength="54.79" lengthAdjust="spacing" style="white-space:pre">Ens. mean</text>
<path d="M54 521.8h11" stroke="#e84040" stroke-width="2"/>
<text x="64.90" y="523.00" font-size="10.42" textLength="56.80" lengthAdjust="spacing" style="white-space:pre">1991-2020</text>
<text x="64.90" y="535.80" font-size="10.42" textLength="29.55" lengthAdjust="spacing" style="white-space:pre">mean</text>
<path d="M-4 536.8h11" stroke="#00e000" stroke-width="2"/>
<text x="6.80" y="539.10" font-size="10.42" textLength="25.51" lengthAdjust="spacing" style="white-space:pre">Oper</text>
</svg></body></html>
